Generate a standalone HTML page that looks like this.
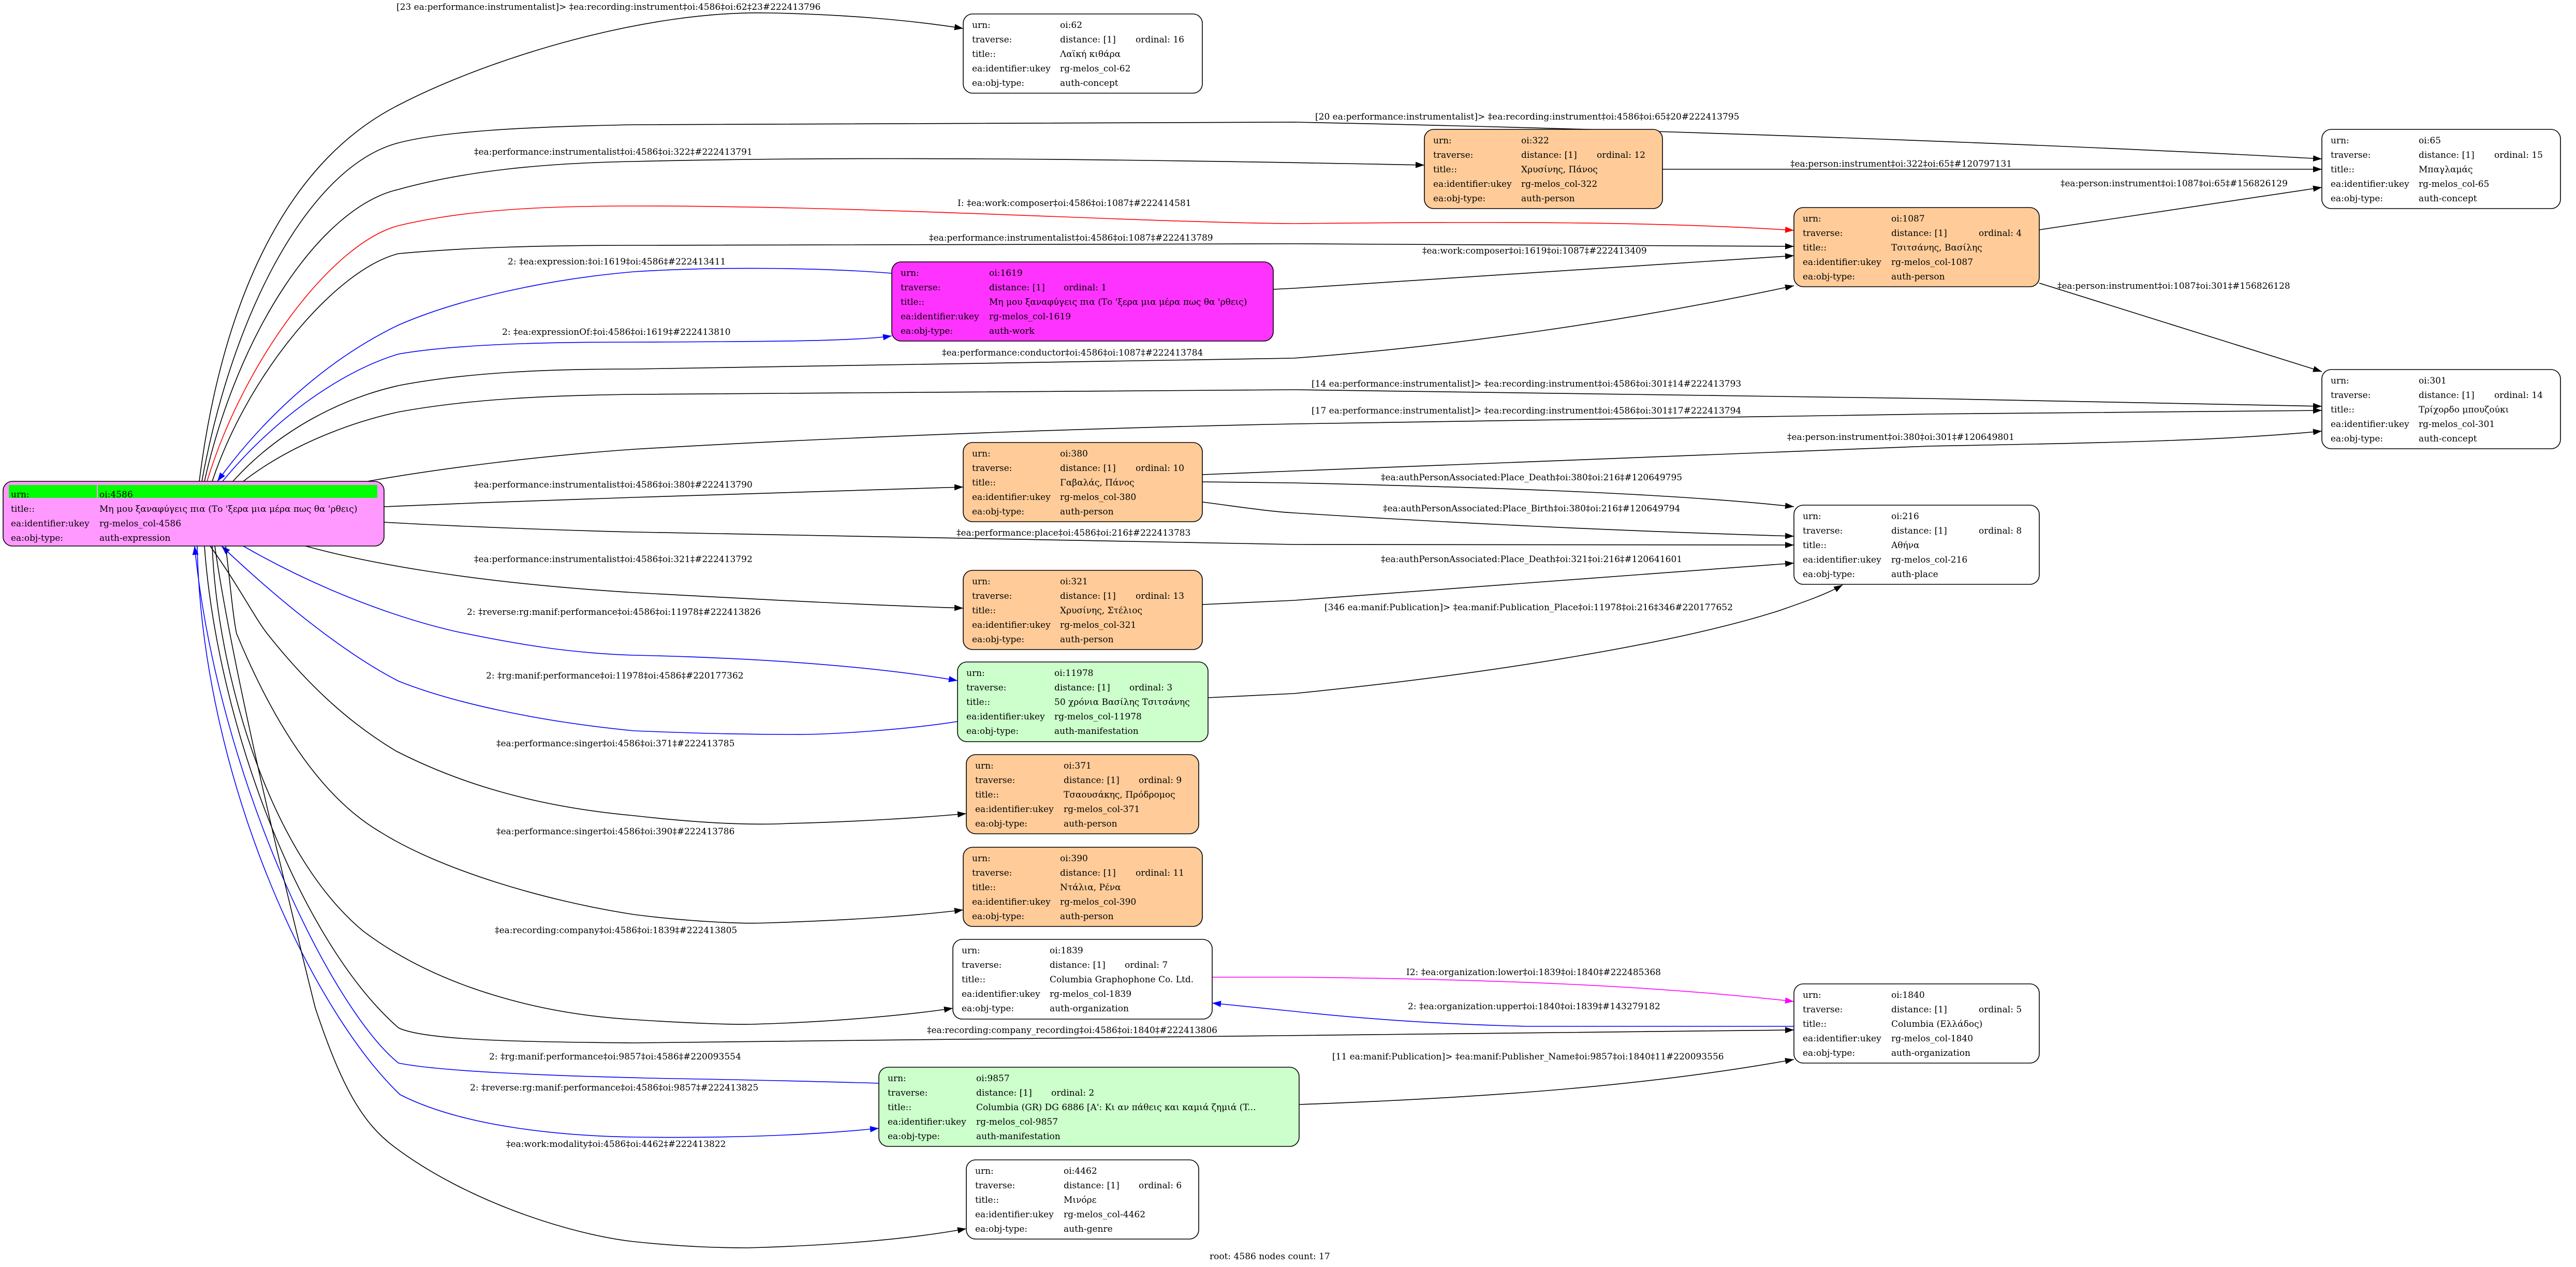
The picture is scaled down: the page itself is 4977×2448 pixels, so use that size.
<!DOCTYPE html>
<html><head><meta charset="utf-8"><style>
html,body{margin:0;padding:0;background:#fff;}
svg{display:block;}
text{font-family:"DejaVu Serif","Liberation Serif",serif;font-size:17px;fill:#000;}
.e{fill:none;stroke:#000;stroke-width:1.6;}
.b{stroke:#0000ff;}
.r{stroke:#ff0000;}
.m{stroke:#ff00ff;}
.n{stroke:#000;stroke-width:1.6;}
</style></head><body>
<svg width="4977" height="2448" viewBox="0 0 4977 2448" xmlns="http://www.w3.org/2000/svg">
<defs>
<marker id="ak" markerUnits="userSpaceOnUse" markerWidth="18" markerHeight="14" refX="17" refY="6" orient="auto"><path d="M0,0 L17,6 L0,12 z" fill="#000"/></marker>
<marker id="ab" markerUnits="userSpaceOnUse" markerWidth="18" markerHeight="14" refX="17" refY="6" orient="auto"><path d="M0,0 L17,6 L0,12 z" fill="#0000ff"/></marker>
<marker id="ar" markerUnits="userSpaceOnUse" markerWidth="18" markerHeight="14" refX="17" refY="6" orient="auto"><path d="M0,0 L17,6 L0,12 z" fill="#ff0000"/></marker>
<marker id="am" markerUnits="userSpaceOnUse" markerWidth="18" markerHeight="14" refX="17" refY="6" orient="auto"><path d="M0,0 L17,6 L0,12 z" fill="#ff00ff"/></marker>
</defs>
<rect width="4977" height="2448" fill="#fff"/>

<!-- edges -->
<path class="e" marker-end="url(#ak)" d="M385,930 C420,650 520,330 770,203 C950,110 1250,20 1484,25 C1650,28 1780,42 1861,55"/>
<path class="e" marker-end="url(#ak)" d="M390,930 C450,600 600,320 770,276 C850,255 1000,245 1225,241 L2500,236 C3200,250 4000,280 4486,307"/>
<path class="e" marker-end="url(#ak)" d="M395,930 C460,640 620,400 770,366 C900,330 1050,315 1225,312 C1700,300 2300,310 2752,319"/>
<path class="e r" marker-end="url(#ar)" d="M400,930 C470,700 640,470 770,436 C900,405 1050,398 1225,398 C1700,398 2200,430 2500,432 C2900,428 3200,428 3466,445"/>
<path class="e" marker-end="url(#ak)" d="M410,930 C480,720 650,520 770,490 C900,478 1050,474 1225,474 L2500,471 L3466,476"/>
<path class="e b" marker-end="url(#ab)" d="M1723,528 C1600,518 1400,514 1225,525 C1050,540 880,580 770,628 C620,700 500,820 420,930"/>
<path class="e b" marker-end="url(#ab)" d="M430,930 C520,820 650,720 770,684 C880,665 1050,661 1225,661 C1450,660 1650,660 1723,649"/>
<path class="e" marker-end="url(#ak)" d="M450,930 C540,830 660,770 770,745 C900,720 1050,713 1225,713 L2500,692 C2800,670 3150,620 3466,552"/>
<path class="e" marker-end="url(#ak)" d="M470,930 C560,860 680,815 770,796 C900,772 1050,764 1225,762 L2500,753 L3727,770 L4486,785"/>
<path class="e" marker-end="url(#ak)" d="M710,930 C850,905 1050,880 1225,868 C1700,840 2200,825 2500,819 L3727,800 L4486,793"/>
<path class="e" marker-end="url(#ak)" d="M742,979 C900,972 1100,965 1225,961 C1500,952 1700,945 1861,941"/>
<path class="e" marker-end="url(#ak)" d="M742,1009 C900,1018 1100,1025 1225,1028 L2500,1052 L3466,1053"/>
<path class="e" marker-end="url(#ak)" d="M590,1055 C700,1085 900,1125 1225,1145 C1500,1160 1700,1170 1861,1175"/>
<path class="e b" marker-end="url(#ab)" d="M470,1055 C600,1130 750,1190 880,1220 C1000,1245 1100,1262 1225,1266 C1500,1272 1700,1290 1850,1315"/>
<path class="e b" marker-end="url(#ab)" d="M1850,1394 C1750,1410 1600,1420 1530,1419 C1400,1419 1300,1415 1225,1412 C1050,1395 880,1360 770,1316 C680,1270 560,1180 428,1055"/>
<path class="e" marker-end="url(#ak)" d="M406,1055 C460,1130 490,1190 516,1224 C600,1330 680,1400 765,1451 C900,1520 1050,1560 1225,1576 C1350,1590 1450,1595 1523,1591 C1650,1588 1780,1580 1867,1572"/>
<path class="e" marker-end="url(#ak)" d="M436,1055 C445,1130 450,1190 457,1224 C530,1400 620,1540 734,1607 C850,1680 1050,1740 1225,1767 C1350,1783 1450,1785 1484,1783 C1650,1778 1780,1768 1861,1758"/>
<path class="e" marker-end="url(#ak)" d="M410,1055 C420,1300 520,1650 703,1800 C850,1910 1050,1960 1225,1970 C1330,1977 1420,1980 1453,1979 C1600,1975 1750,1962 1841,1948"/>
<path class="e" marker-end="url(#ak)" d="M395,1055 C420,1400 580,1820 770,1986 C820,2010 1000,2013 1225,2015 L2475,2001 L3466,1990"/>
<path class="e b" marker-end="url(#ab)" d="M1698,2093 C1500,2087 1350,2085 1250,2083 C1050,2078 850,2070 770,2054 C640,1950 420,1500 376,1055"/>
<path class="e b" marker-end="url(#ab)" d="M381,1055 C390,1500 600,1950 773,2115 C900,2180 1100,2195 1225,2197 C1450,2200 1600,2190 1698,2180"/>
<path class="e" marker-end="url(#ak)" d="M415,1055 C450,1300 560,1750 609,1947 C660,2100 700,2170 762,2216 C900,2320 1100,2385 1225,2399 C1330,2410 1400,2411 1445,2411 C1650,2405 1780,2390 1867,2374"/>
<path class="e" marker-end="url(#ak)" d="M2460,559 L2500,557 L3466,494"/>
<path class="e" marker-end="url(#ak)" d="M3212,327 L4486,327"/>
<path class="e" marker-end="url(#ak)" d="M3940,444 L4486,362"/>
<path class="e" marker-end="url(#ak)" d="M3940,547 L4486,718"/>
<path class="e" marker-end="url(#ak)" d="M2323,917 L2500,910 L3727,862 C4100,855 4300,851 4486,833"/>
<path class="e" marker-end="url(#ak)" d="M2323,931 L2500,933 C2800,940 3200,950 3466,979"/>
<path class="e" marker-end="url(#ak)" d="M2323,970 C2400,980 2450,988 2500,991 C2800,1010 3100,1025 3466,1036"/>
<path class="e" marker-end="url(#ak)" d="M2323,1168 L2500,1160 L3466,1088"/>
<path class="e" marker-end="url(#ak)" d="M2334,1348 L2500,1340 C2900,1300 3250,1240 3437,1180 C3480,1165 3530,1148 3560,1130"/>
<path class="e m" marker-end="url(#am)" d="M2342,1888 L2500,1888 C2900,1892 3200,1905 3466,1935"/>
<path class="e b" marker-end="url(#ab)" d="M3466,1983 L2950,1983 C2750,1978 2600,1965 2500,1954 L2342,1938"/>
<path class="e" marker-end="url(#ak)" d="M2510,2134 C2900,2120 3200,2095 3466,2047"/>

<!-- edge labels -->
<text x="766" y="19">[23 ea:performance:instrumentalist]&gt; ‡ea:recording:instrument‡oi:4586‡oi:62‡23#222413796</text>
<text x="2541" y="231">[20 ea:performance:instrumentalist]&gt; ‡ea:recording:instrument‡oi:4586‡oi:65‡20#222413795</text>
<text x="916" y="299">‡ea:performance:instrumentalist‡oi:4586‡oi:322‡#222413791</text>
<text x="3459" y="322">‡ea:person:instrument‡oi:322‡oi:65‡#120797131</text>
<text x="3981" y="360">‡ea:person:instrument‡oi:1087‡oi:65‡#156826129</text>
<text x="1850" y="398">I: ‡ea:work:composer‡oi:4586‡oi:1087‡#222414581</text>
<text x="1795" y="465">‡ea:performance:instrumentalist‡oi:4586‡oi:1087‡#222413789</text>
<text x="2748" y="490">‡ea:work:composer‡oi:1619‡oi:1087‡#222413409</text>
<text x="981" y="511">2: ‡ea:expression:‡oi:1619‡oi:4586‡#222413411</text>
<text x="3975" y="558">‡ea:person:instrument‡oi:1087‡oi:301‡#156826128</text>
<text x="970" y="647">2: ‡ea:expressionOf:‡oi:4586‡oi:1619‡#222413810</text>
<text x="1820" y="687">‡ea:performance:conductor‡oi:4586‡oi:1087‡#222413784</text>
<text x="2534" y="747">[14 ea:performance:instrumentalist]&gt; ‡ea:recording:instrument‡oi:4586‡oi:301‡14#222413793</text>
<text x="2534" y="799">[17 ea:performance:instrumentalist]&gt; ‡ea:recording:instrument‡oi:4586‡oi:301‡17#222413794</text>
<text x="3453" y="850">‡ea:person:instrument‡oi:380‡oi:301‡#120649801</text>
<text x="2668" y="928">‡ea:authPersonAssociated:Place_Death‡oi:380‡oi:216‡#120649795</text>
<text x="916" y="942">‡ea:performance:instrumentalist‡oi:4586‡oi:380‡#222413790</text>
<text x="2672" y="988">‡ea:authPersonAssociated:Place_Birth‡oi:380‡oi:216‡#120649794</text>
<text x="1848" y="1035">‡ea:performance:place‡oi:4586‡oi:216‡#222413783</text>
<text x="916" y="1086">‡ea:performance:instrumentalist‡oi:4586‡oi:321‡#222413792</text>
<text x="2668" y="1086">‡ea:authPersonAssociated:Place_Death‡oi:321‡oi:216‡#120641601</text>
<text x="2559" y="1179">[346 ea:manif:Publication]&gt; ‡ea:manif:Publication_Place‡oi:11978‡oi:216‡346#220177652</text>
<text x="902" y="1188">2: ‡reverse:rg:manif:performance‡oi:4586‡oi:11978‡#222413826</text>
<text x="939" y="1311">2: ‡rg:manif:performance‡oi:11978‡oi:4586‡#220177362</text>
<text x="959" y="1442">‡ea:performance:singer‡oi:4586‡oi:371‡#222413785</text>
<text x="959" y="1612">‡ea:performance:singer‡oi:4586‡oi:390‡#222413786</text>
<text x="956" y="1803">‡ea:recording:company‡oi:4586‡oi:1839‡#222413805</text>
<text x="2717" y="1884">I2: ‡ea:organization:lower‡oi:1839‡oi:1840‡#222485368</text>
<text x="2720" y="1950">2: ‡ea:organization:upper‡oi:1840‡oi:1839‡#143279182</text>
<text x="1791" y="1996">‡ea:recording:company_recording‡oi:4586‡oi:1840‡#222413806</text>
<text x="945" y="2047">2: ‡rg:manif:performance‡oi:9857‡oi:4586‡#220093554</text>
<text x="2574" y="2047">[11 ea:manif:Publication]&gt; ‡ea:manif:Publisher_Name‡oi:9857‡oi:1840‡11#220093556</text>
<text x="908" y="2107">2: ‡reverse:rg:manif:performance‡oi:4586‡oi:9857‡#222413825</text>
<text x="978" y="2216">‡ea:work:modality‡oi:4586‡oi:4462‡#222413822</text>

<!-- root node -->
<g transform="translate(6,930)">
<rect class="n" x="0" y="0" width="736" height="125" rx="18" fill="#ff99ff"/>
<rect x="11" y="7" width="170" height="25" fill="#00ff00"/>
<rect x="183" y="7" width="540" height="25" fill="#00ff00"/>
<text x="15" y="31">urn:</text><text x="186" y="31">oi:4586</text>
<text x="15" y="59">title::</text><text x="186" y="59">Μη μου ξαναφύγεις πια (Το 'ξερα μια μέρα πως θα 'ρθεις)</text>
<text x="15" y="87">ea:identifier:ukey</text><text x="186" y="87">rg-melos_col-4586</text>
<text x="15" y="115">ea:obj-type:</text><text x="186" y="115">auth-expression</text>
</g>

<!-- nodes -->
<g transform="translate(1861,27)"><rect class="n" width="462" height="153" rx="18" fill="#fff"/>
<text x="17" y="27">urn:</text><text x="187" y="27">oi:62</text>
<text x="17" y="55">traverse:</text><text x="187" y="55">distance: [1]</text><text x="333" y="55">ordinal: 16</text>
<text x="17" y="83">title::</text><text x="187" y="83">Λαϊκή κιθάρα</text>
<text x="17" y="111">ea:identifier:ukey</text><text x="187" y="111">rg-melos_col-62</text>
<text x="17" y="139">ea:obj-type:</text><text x="187" y="139">auth-concept</text></g>

<g transform="translate(4486,250)"><rect class="n" width="461" height="153" rx="18" fill="#fff"/>
<text x="17" y="27">urn:</text><text x="187" y="27">oi:65</text>
<text x="17" y="55">traverse:</text><text x="187" y="55">distance: [1]</text><text x="333" y="55">ordinal: 15</text>
<text x="17" y="83">title::</text><text x="187" y="83">Μπαγλαμάς</text>
<text x="17" y="111">ea:identifier:ukey</text><text x="187" y="111">rg-melos_col-65</text>
<text x="17" y="139">ea:obj-type:</text><text x="187" y="139">auth-concept</text></g>

<g transform="translate(2752,250)"><rect class="n" width="460" height="153" rx="18" fill="#ffcc99"/>
<text x="17" y="27">urn:</text><text x="187" y="27">oi:322</text>
<text x="17" y="55">traverse:</text><text x="187" y="55">distance: [1]</text><text x="333" y="55">ordinal: 12</text>
<text x="17" y="83">title::</text><text x="187" y="83">Χρυσίνης, Πάνος</text>
<text x="17" y="111">ea:identifier:ukey</text><text x="187" y="111">rg-melos_col-322</text>
<text x="17" y="139">ea:obj-type:</text><text x="187" y="139">auth-person</text></g>

<g transform="translate(3466,401)"><rect class="n" width="474" height="153" rx="18" fill="#ffcc99"/>
<text x="17" y="27">urn:</text><text x="188" y="27">oi:1087</text>
<text x="17" y="55">traverse:</text><text x="188" y="55">distance: [1]</text><text x="357" y="55">ordinal: 4</text>
<text x="17" y="83">title::</text><text x="188" y="83">Τσιτσάνης, Βασίλης</text>
<text x="17" y="111">ea:identifier:ukey</text><text x="188" y="111">rg-melos_col-1087</text>
<text x="17" y="139">ea:obj-type:</text><text x="188" y="139">auth-person</text></g>

<g transform="translate(1723,506)"><rect class="n" width="737" height="153" rx="18" fill="#ff33ff"/>
<text x="17" y="27">urn:</text><text x="188" y="27">oi:1619</text>
<text x="17" y="55">traverse:</text><text x="188" y="55">distance: [1]</text><text x="332" y="55">ordinal: 1</text>
<text x="17" y="83">title::</text><text x="188" y="83">Μη μου ξαναφύγεις πια (Το 'ξερα μια μέρα πως θα 'ρθεις)</text>
<text x="17" y="111">ea:identifier:ukey</text><text x="188" y="111">rg-melos_col-1619</text>
<text x="17" y="139">ea:obj-type:</text><text x="188" y="139">auth-work</text></g>

<g transform="translate(4486,714)"><rect class="n" width="461" height="153" rx="18" fill="#fff"/>
<text x="17" y="27">urn:</text><text x="187" y="27">oi:301</text>
<text x="17" y="55">traverse:</text><text x="187" y="55">distance: [1]</text><text x="333" y="55">ordinal: 14</text>
<text x="17" y="83">title::</text><text x="187" y="83">Τρίχορδο μπουζούκι</text>
<text x="17" y="111">ea:identifier:ukey</text><text x="187" y="111">rg-melos_col-301</text>
<text x="17" y="139">ea:obj-type:</text><text x="187" y="139">auth-concept</text></g>

<g transform="translate(1861,855)"><rect class="n" width="462" height="153" rx="18" fill="#ffcc99"/>
<text x="17" y="27">urn:</text><text x="187" y="27">oi:380</text>
<text x="17" y="55">traverse:</text><text x="187" y="55">distance: [1]</text><text x="333" y="55">ordinal: 10</text>
<text x="17" y="83">title::</text><text x="187" y="83">Γαβαλάς, Πάνος</text>
<text x="17" y="111">ea:identifier:ukey</text><text x="187" y="111">rg-melos_col-380</text>
<text x="17" y="139">ea:obj-type:</text><text x="187" y="139">auth-person</text></g>

<g transform="translate(3466,976)"><rect class="n" width="474" height="153" rx="18" fill="#fff"/>
<text x="17" y="27">urn:</text><text x="188" y="27">oi:216</text>
<text x="17" y="55">traverse:</text><text x="188" y="55">distance: [1]</text><text x="357" y="55">ordinal: 8</text>
<text x="17" y="83">title::</text><text x="188" y="83">Αθήνα</text>
<text x="17" y="111">ea:identifier:ukey</text><text x="188" y="111">rg-melos_col-216</text>
<text x="17" y="139">ea:obj-type:</text><text x="188" y="139">auth-place</text></g>

<g transform="translate(1861,1102)"><rect class="n" width="462" height="153" rx="18" fill="#ffcc99"/>
<text x="17" y="27">urn:</text><text x="187" y="27">oi:321</text>
<text x="17" y="55">traverse:</text><text x="187" y="55">distance: [1]</text><text x="333" y="55">ordinal: 13</text>
<text x="17" y="83">title::</text><text x="187" y="83">Χρυσίνης, Στέλιος</text>
<text x="17" y="111">ea:identifier:ukey</text><text x="187" y="111">rg-melos_col-321</text>
<text x="17" y="139">ea:obj-type:</text><text x="187" y="139">auth-person</text></g>

<g transform="translate(1850,1279)"><rect class="n" width="484" height="154" rx="18" fill="#ccffcc"/>
<text x="17" y="27">urn:</text><text x="187" y="27">oi:11978</text>
<text x="17" y="55">traverse:</text><text x="187" y="55">distance: [1]</text><text x="332" y="55">ordinal: 3</text>
<text x="17" y="83">title::</text><text x="187" y="83">50 χρόνια Βασίλης Τσιτσάνης</text>
<text x="17" y="111">ea:identifier:ukey</text><text x="187" y="111">rg-melos_col-11978</text>
<text x="17" y="139">ea:obj-type:</text><text x="187" y="139">auth-manifestation</text></g>

<g transform="translate(1867,1458)"><rect class="n" width="449" height="153" rx="18" fill="#ffcc99"/>
<text x="17" y="27">urn:</text><text x="188" y="27">oi:371</text>
<text x="17" y="55">traverse:</text><text x="188" y="55">distance: [1]</text><text x="333" y="55">ordinal: 9</text>
<text x="17" y="83">title::</text><text x="188" y="83">Τσαουσάκης, Πρόδρομος</text>
<text x="17" y="111">ea:identifier:ukey</text><text x="188" y="111">rg-melos_col-371</text>
<text x="17" y="139">ea:obj-type:</text><text x="188" y="139">auth-person</text></g>

<g transform="translate(1861,1637)"><rect class="n" width="462" height="153" rx="18" fill="#ffcc99"/>
<text x="17" y="27">urn:</text><text x="187" y="27">oi:390</text>
<text x="17" y="55">traverse:</text><text x="187" y="55">distance: [1]</text><text x="333" y="55">ordinal: 11</text>
<text x="17" y="83">title::</text><text x="187" y="83">Ντάλια, Ρένα</text>
<text x="17" y="111">ea:identifier:ukey</text><text x="187" y="111">rg-melos_col-390</text>
<text x="17" y="139">ea:obj-type:</text><text x="187" y="139">auth-person</text></g>

<g transform="translate(1841,1815)"><rect class="n" width="501" height="154" rx="18" fill="#fff"/>
<text x="17" y="27">urn:</text><text x="187" y="27">oi:1839</text>
<text x="17" y="55">traverse:</text><text x="187" y="55">distance: [1]</text><text x="332" y="55">ordinal: 7</text>
<text x="17" y="83">title::</text><text x="187" y="83">Columbia Graphophone Co. Ltd.</text>
<text x="17" y="111">ea:identifier:ukey</text><text x="187" y="111">rg-melos_col-1839</text>
<text x="17" y="139">ea:obj-type:</text><text x="187" y="139">auth-organization</text></g>

<g transform="translate(3466,1901)"><rect class="n" width="474" height="153" rx="18" fill="#fff"/>
<text x="17" y="27">urn:</text><text x="188" y="27">oi:1840</text>
<text x="17" y="55">traverse:</text><text x="188" y="55">distance: [1]</text><text x="357" y="55">ordinal: 5</text>
<text x="17" y="83">title::</text><text x="188" y="83">Columbia (Ελλάδος)</text>
<text x="17" y="111">ea:identifier:ukey</text><text x="188" y="111">rg-melos_col-1840</text>
<text x="17" y="139">ea:obj-type:</text><text x="188" y="139">auth-organization</text></g>

<g transform="translate(1698,2062)"><rect class="n" width="812" height="153" rx="18" fill="#ccffcc"/>
<text x="17" y="27">urn:</text><text x="188" y="27">oi:9857</text>
<text x="17" y="55">traverse:</text><text x="188" y="55">distance: [1]</text><text x="333" y="55">ordinal: 2</text>
<text x="17" y="83">title::</text><text x="188" y="83">Columbia (GR) DG 6886 [A': Κι αν πάθεις και καμιά ζημιά (T...</text>
<text x="17" y="111">ea:identifier:ukey</text><text x="188" y="111">rg-melos_col-9857</text>
<text x="17" y="139">ea:obj-type:</text><text x="188" y="139">auth-manifestation</text></g>

<g transform="translate(1867,2241)"><rect class="n" width="449" height="153" rx="18" fill="#fff"/>
<text x="17" y="27">urn:</text><text x="188" y="27">oi:4462</text>
<text x="17" y="55">traverse:</text><text x="188" y="55">distance: [1]</text><text x="333" y="55">ordinal: 6</text>
<text x="17" y="83">title::</text><text x="188" y="83">Μινόρε</text>
<text x="17" y="111">ea:identifier:ukey</text><text x="188" y="111">rg-melos_col-4462</text>
<text x="17" y="139">ea:obj-type:</text><text x="188" y="139">auth-genre</text></g>

<text x="2337" y="2433">root: 4586 nodes count: 17</text>
</svg>
</body></html>
